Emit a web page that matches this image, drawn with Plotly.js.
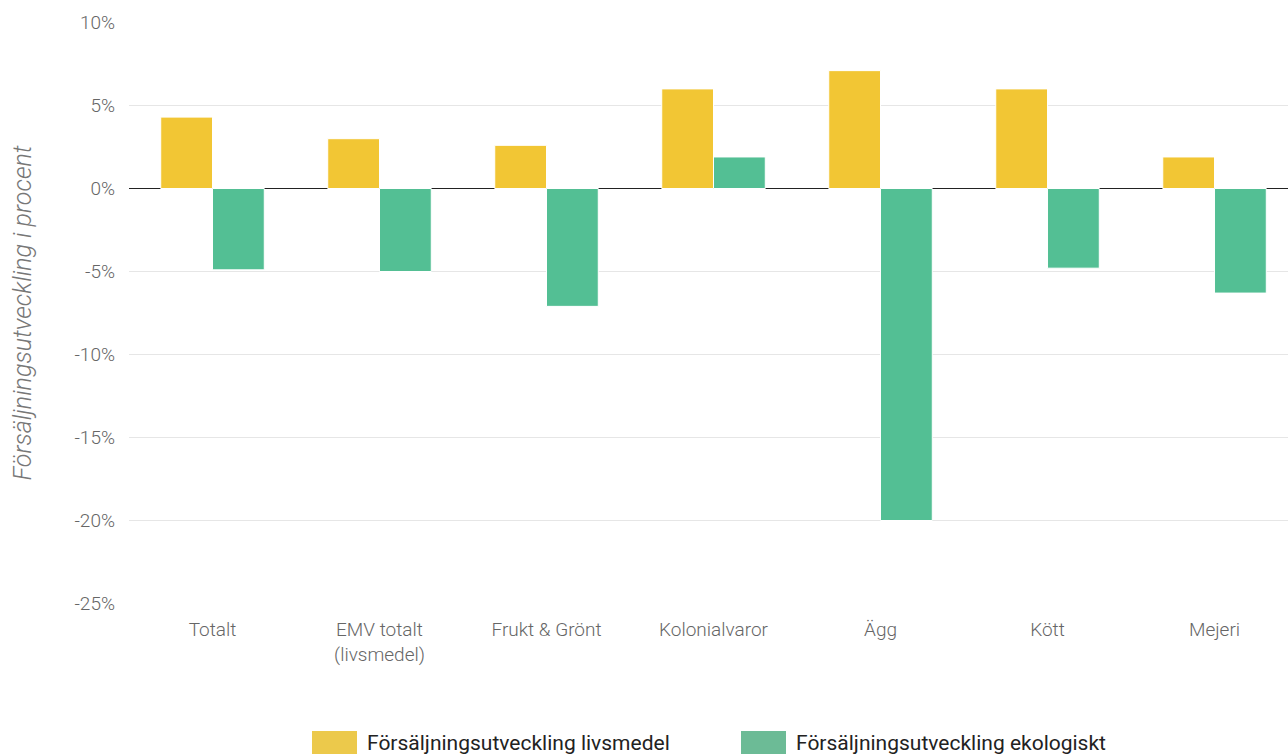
<!DOCTYPE html>
<html><head><meta charset="utf-8">
<script src="https://cdn.plot.ly/plotly-3.0.1.min.js"></script>
<style>html,body{margin:0;padding:0;background:#fff;overflow:hidden}</style>
</head><body>
<div id="chart" style="width:1288px;height:754px"></div>
<script>
const categories = ["Totalt", "EMV totalt<br>(livsmedel)", "Frukt & Grönt", "Kolonialvaror", "Ägg", "Kött", "Mejeri"];
const livsmedel = [4.3, 3.0, 2.6, 6.0, 7.1, 6.0, 1.9];
const ekologiskt = [-4.9, -5.0, -7.1, 1.9, -20.0, -4.8, -6.3];
const seriesNames = ["Försäljningsutveckling livsmedel", "Försäljningsutveckling ekologiskt"];
const yTicks = [10, 5, 0, -5, -10, -15, -20, -25];

const barColors = ["#F2C634", "#53BF94"];
const legendColors = ["#ECC94B", "#6CBB96"];
const font = "Roboto, 'DejaVu Sans', sans-serif";

const W = 1288, H = 754, M = {l: 129, r: 0, t: 22, b: 150};
const pw = W - M.l - M.r, ph = H - M.t - M.b;
const px = x => (x - M.l) / pw;
const py = y => (H - M.b - y) / ph;

const traces = [
  {type: "bar", name: seriesNames[0], x: categories, y: livsmedel,
   marker: {color: barColors[0], line: {color: "#ffffff", width: 1}}},
  {type: "bar", name: seriesNames[1], x: categories, y: ekologiskt,
   marker: {color: barColors[1], line: {color: "#ffffff", width: 1}}}
];

// custom legend (large swatches like the reference)
const legendX = [312, 741];
const shapes = legendX.map((x, i) => ({
  type: "rect", xref: "paper", yref: "paper", layer: "above",
  x0: px(x), x1: px(x + 45), y0: py(754), y1: py(731),
  fillcolor: legendColors[i], line: {width: 0}
}));
const annotations = legendX.map((x, i) => ({
  xref: "paper", yref: "paper", x: px(x + 53), y: py(743),
  xanchor: "left", yanchor: "middle", showarrow: false,
  text: seriesNames[i], font: {family: font, size: 21, color: "#222"}
}));

const layout = {
  width: W, height: H,
  margin: {l: M.l, r: M.r, t: M.t, b: M.b, autoexpand: false},
  paper_bgcolor: "#fff", plot_bgcolor: "#fff",
  barmode: "group", bargap: 0.38, bargroupgap: 0,
  font: {family: font, color: "#666", size: 19},
  xaxis: {
    range: [-0.5, 6.44], type: "category",
    showgrid: false, zeroline: false, showline: false, ticks: "",
    tickfont: {family: font, size: 19, color: "#666", weight: 300},
    ticklabelstandoff: 12, automargin: false,
    fixedrange: true
  },
  yaxis: {
    range: [-25.03, 10.03], tickvals: yTicks, ticktext: yTicks.map(v => v + "%"),
    showgrid: true, gridcolor: "#e6e6e6", gridwidth: 1,
    zeroline: true, zerolinecolor: "#222", zerolinewidth: 1,
    showline: false, ticks: "",
    tickfont: {family: font, size: 19, color: "#666", weight: 300},
    ticklabelstandoff: 13,
    automargin: false,
    title: {text: "<i>Försäljningsutveckling i procent</i>", standoff: 35,
            font: {family: font, size: 25, color: "#777", weight: 300}},
    fixedrange: true
  },
  showlegend: false,
  shapes: shapes,
  annotations: annotations,
  hovermode: false
};
Plotly.newPlot("chart", traces, layout, {displayModeBar: false, staticPlot: true});
</script>
</body></html>
